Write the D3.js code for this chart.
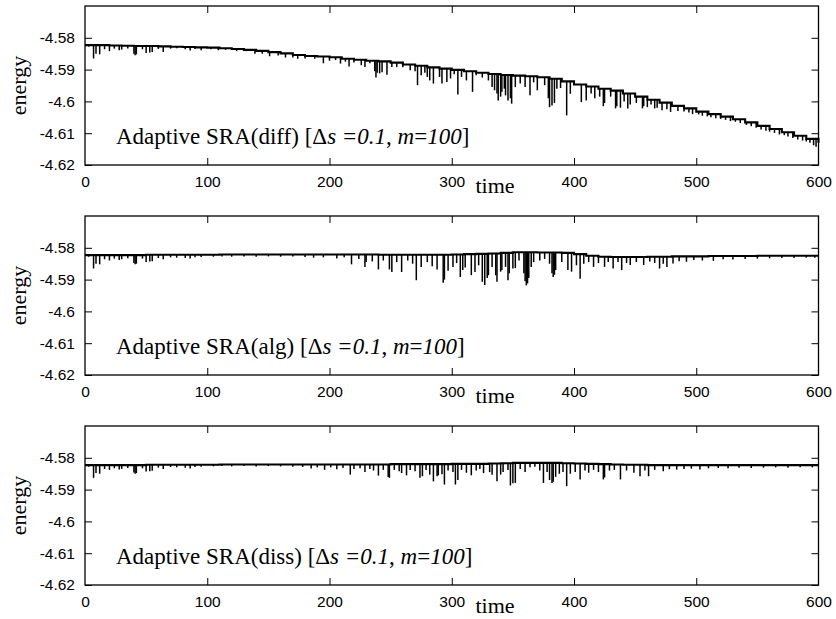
<!DOCTYPE html>
<html><head><meta charset="utf-8">
<script src="https://cdn.jsdelivr.net/npm/d3@7"></script>
<style>
body{margin:0;background:#fff;}
svg{display:block;}
</style></head>
<body><svg id="c" width="836" height="619"></svg>
<script>
// ---------- data ----------
const timeGrid = [0,10,20,30,40,50,60,70,80,90,100,110,120,130,140,150,160,170,180,190,200,210,220,230,240,250,260,270,280,290,300,310,320,330,340,350,360,370,380,390,400,410,420,430,440,450,460,470,480,490,500,510,520,530,540,550,560,570,580,590,600];

const diffBase = [-4.5823,-4.5823,-4.5824,-4.5825,-4.5826,-4.5826,-4.5827,-4.5828,-4.5829,-4.5830,
 -4.5831,-4.5833,-4.5835,-4.5838,-4.5841,-4.5845,-4.5849,-4.5854,-4.5857,-4.5859,
 -4.5861,-4.5866,-4.5869,-4.5872,-4.5874,-4.5878,-4.5884,-4.5888,-4.5893,-4.5897,
 -4.5901,-4.5905,-4.5910,-4.5914,-4.5917,-4.5919,-4.5921,-4.5924,-4.5929,-4.5937,
 -4.5947,-4.5953,-4.5960,-4.5966,-4.5975,-4.5985,-4.5995,-4.6004,-4.6014,-4.6022,
 -4.6032,-4.6040,-4.6048,-4.6056,-4.6066,-4.6077,-4.6087,-4.6097,-4.6108,-4.6118,-4.6130];

const algBase = [-4.5823,-4.5823,-4.5823,-4.5823,-4.5823,-4.5822,-4.5822,-4.5822,-4.5822,-4.5822,
 -4.5822,-4.5821,-4.5821,-4.5821,-4.5821,-4.5821,-4.5821,-4.5821,-4.5821,-4.5821,
 -4.5821,-4.5821,-4.5821,-4.5821,-4.5822,-4.5822,-4.5822,-4.5822,-4.5822,-4.5822,
 -4.5821,-4.5820,-4.5819,-4.5818,-4.5816,-4.5814,-4.5814,-4.5815,-4.5815,-4.5816,
 -4.5820,-4.5825,-4.5828,-4.5829,-4.5829,-4.5829,-4.5828,-4.5828,-4.5827,-4.5827,
 -4.5827,-4.5826,-4.5826,-4.5826,-4.5826,-4.5825,-4.5825,-4.5825,-4.5825,-4.5825,-4.5825];

const dissBase = [-4.5823,-4.5823,-4.5823,-4.5823,-4.5823,-4.5822,-4.5822,-4.5822,-4.5822,-4.5822,
 -4.5822,-4.5821,-4.5821,-4.5821,-4.5821,-4.5821,-4.5821,-4.5821,-4.5821,-4.5821,
 -4.5821,-4.5821,-4.5821,-4.5821,-4.5821,-4.5820,-4.5820,-4.5820,-4.5820,-4.5820,
 -4.5819,-4.5819,-4.5819,-4.5818,-4.5817,-4.5816,-4.5816,-4.5816,-4.5816,-4.5817,
 -4.5818,-4.5819,-4.5820,-4.5821,-4.5822,-4.5822,-4.5823,-4.5823,-4.5823,-4.5823,
 -4.5823,-4.5823,-4.5823,-4.5823,-4.5823,-4.5823,-4.5823,-4.5823,-4.5823,-4.5823,-4.5823];

// spikes: [time, minimum energy reached]
const diffSpikes = [[3,-4.5828],[7,-4.5865],[9,-4.5850],[12,-4.5852],[16,-4.5836],[20,-4.5842],[24,-4.5834],[28,-4.5839],[30,-4.5837],[35,-4.5834],[40,-4.5850],[41,-4.5855],[42,-4.5852],[47,-4.5836],[50,-4.5848],[53,-4.5846],[55,-4.5845],[60,-4.5835],[64,-4.5845],[70,-4.5834],[75,-4.5833],[82,-4.5836],[86,-4.5840],[90,-4.5835],[95,-4.5839],[103,-4.5836],[109,-4.5839],[115,-4.5838],[124,-4.5842],[132,-4.5842],[139,-4.5850],[145,-4.5850],[151,-4.5858],[158,-4.5856],[164,-4.5862],[170,-4.5862],[174,-4.5866],[180,-4.5865],[188,-4.5866],[195,-4.5880],[200,-4.5872],
 [205,-4.5870],[209,-4.5881],[213,-4.5875],[216,-4.5890],[220,-4.5878],[226,-4.5886],[229,-4.5892],[233,-4.5880],[237,-4.5905],[238,-4.5925],[239,-4.5910],[241,-4.5912],[243,-4.5908],[247,-4.5916],[251,-4.5892],[255,-4.5892],[260,-4.5893],[266,-4.5902],[270,-4.5905],[272,-4.5949],[275,-4.5918],[278,-4.5910],[280,-4.5923],[282,-4.5934],[285,-4.5944],[290,-4.5923],[292,-4.5944],[296,-4.5939],[299,-4.5928],[302,-4.5915],[305,-4.5978],[308,-4.5923],[312,-4.5934],[317,-4.5970],[320,-4.5918],[325,-4.5925],[330,-4.5934],[333,-4.5955],[335,-4.5965],[337,-4.5975],[338,-4.5997],[340,-4.5985],[341,-4.5970],[343,-4.5960],[344,-4.5981],[346,-4.5997],[348,-4.5990],[349,-4.6007],[352,-4.5955],[356,-4.5944],[360,-4.5955],[364,-4.5981],[367,-4.5940],[370,-4.5965],[376,-4.5949],[379,-4.5990],[380,-4.6018],[382,-4.6013],[384,-4.6005],[386,-4.5960],[389,-4.5958],[394,-4.6044],[397,-4.5976],
 [406,-4.6002],[410,-4.5997],[414,-4.5975],[417,-4.5990],[421,-4.5985],[424,-4.6015],[425,-4.6005],[430,-4.5985],[434,-4.6022],[435,-4.6015],[438,-4.6020],[441,-4.6000],[444,-4.6022],[446,-4.6010],[451,-4.6005],[456,-4.6022],[457,-4.6015],[460,-4.6018],[463,-4.6010],[466,-4.6022],[468,-4.6020],[472,-4.6028],[476,-4.6025],[479,-4.6033],[485,-4.6030],[490,-4.6032],[494,-4.6035],[497,-4.6040],[502,-4.6041],[505,-4.6045],[509,-4.6047],[512,-4.6050],[516,-4.6053],[520,-4.6055],[524,-4.6058],[528,-4.6062],[532,-4.6064],[536,-4.6068],[541,-4.6074],[545,-4.6078],[549,-4.6083],[553,-4.6088],[557,-4.6092],[560,-4.6095],[564,-4.6099],[568,-4.6104],[572,-4.6106],[575,-4.6110],[579,-4.6115],[583,-4.6120],[587,-4.6123],[590,-4.6126],[593,-4.6130],[596,-4.6138],[598,-4.6143]];

const algSpikes = [[3,-4.5828],[7,-4.5865],[9,-4.5850],[12,-4.5852],[16,-4.5836],[20,-4.5840],[24,-4.5834],[28,-4.5838],[30,-4.5836],[35,-4.5833],[40,-4.5848],[41,-4.5852],[42,-4.5850],[47,-4.5834],[50,-4.5845],[53,-4.5843],[55,-4.5842],[60,-4.5832],[64,-4.5836],[70,-4.5830],[75,-4.5831],[82,-4.5832],[86,-4.5834],[90,-4.5830],[95,-4.5829],
 [105,-4.5828],[112,-4.5827],[120,-4.5828],[130,-4.5827],[140,-4.5828],[150,-4.5827],[160,-4.5828],[170,-4.5827],[180,-4.5829],[187,-4.5831],[195,-4.5830],
 [206,-4.5834],[212,-4.5830],[218,-4.5852],[224,-4.5835],[229,-4.5860],[230,-4.5845],[235,-4.5843],[240,-4.5868],[244,-4.5840],[249,-4.5868],[251,-4.5876],[255,-4.5845],[259,-4.5876],[264,-4.5840],[268,-4.5850],[271,-4.5902],[275,-4.5860],[280,-4.5845],[284,-4.5858],[288,-4.5868],[293,-4.5910],[294,-4.5900],[297,-4.5872],
 [301,-4.5860],[304,-4.5848],[307,-4.5892],[309,-4.5870],[311,-4.5862],[316,-4.5886],[319,-4.5876],[322,-4.5855],[325,-4.5907],[327,-4.5917],[329,-4.5895],[330,-4.5886],[333,-4.5860],[336,-4.5886],[337,-4.5907],[340,-4.5875],[341,-4.5870],[344,-4.5860],[346,-4.5902],[347,-4.5880],[350,-4.5865],[352,-4.5864],[355,-4.5840],[359,-4.5880],[360,-4.5905],[361,-4.5918],[362,-4.5912],[363,-4.5895],[365,-4.5860],[367,-4.5845],[372,-4.5840],[376,-4.5835],[380,-4.5850],[382,-4.5880],[383,-4.5892],[384,-4.5885],[385,-4.5870],[390,-4.5845],[395,-4.5870],[398,-4.5875],
 [402,-4.5855],[405,-4.5897],[408,-4.5850],[412,-4.5845],[416,-4.5860],[420,-4.5848],[425,-4.5860],[428,-4.5845],[432,-4.5865],[436,-4.5845],[439,-4.5870],[443,-4.5848],[446,-4.5854],[451,-4.5845],[457,-4.5854],[462,-4.5843],[466,-4.5848],[470,-4.5865],[473,-4.5850],[476,-4.5860],[481,-4.5849],[486,-4.5842],[492,-4.5844],[498,-4.5838],[505,-4.5840],[514,-4.5841],[522,-4.5836],[530,-4.5837],[540,-4.5835],[550,-4.5834],[560,-4.5833],[570,-4.5832],[580,-4.5832],[590,-4.5831],[597,-4.5831]];

const dissSpikes = [[3,-4.5828],[7,-4.5863],[9,-4.5848],[12,-4.5850],[16,-4.5835],[20,-4.5838],[24,-4.5833],[28,-4.5837],[30,-4.5835],[35,-4.5832],[40,-4.5846],[41,-4.5850],[42,-4.5848],[47,-4.5833],[50,-4.5843],[53,-4.5842],[55,-4.5841],[60,-4.5831],[64,-4.5835],[70,-4.5829],[75,-4.5830],[82,-4.5831],[86,-4.5834],[90,-4.5829],[95,-4.5828],
 [105,-4.5827],[112,-4.5826],[120,-4.5827],[130,-4.5826],[140,-4.5827],[150,-4.5826],[160,-4.5827],[170,-4.5828],[178,-4.5829],[185,-4.5834],[190,-4.5830],[196,-4.5838],
 [201,-4.5830],[206,-4.5836],[211,-4.5832],[217,-4.5853],[220,-4.5835],[225,-4.5833],[229,-4.5845],[233,-4.5835],[236,-4.5840],[240,-4.5856],[244,-4.5838],[248,-4.5860],[249,-4.5863],[253,-4.5838],[257,-4.5842],[259,-4.5848],[263,-4.5855],[266,-4.5838],[270,-4.5842],[274,-4.5863],[276,-4.5858],[279,-4.5838],[282,-4.5853],[285,-4.5874],[288,-4.5858],[289,-4.5855],[292,-4.5852],[294,-4.5884],[297,-4.5840],
 [301,-4.5845],[303,-4.5884],[305,-4.5870],[308,-4.5838],[312,-4.5847],[316,-4.5855],[320,-4.5840],[323,-4.5835],[326,-4.5848],[331,-4.5845],[333,-4.5853],[337,-4.5874],[340,-4.5853],[342,-4.5845],[346,-4.5838],[348,-4.5887],[350,-4.5880],[352,-4.5879],[356,-4.5835],[360,-4.5845],[364,-4.5830],[368,-4.5828],[372,-4.5840],[375,-4.5879],[378,-4.5845],[380,-4.5870],[382,-4.5879],[383,-4.5875],[385,-4.5860],[388,-4.5850],[391,-4.5845],[394,-4.5889],[397,-4.5850],
 [401,-4.5845],[405,-4.5868],[409,-4.5840],[412,-4.5847],[416,-4.5838],[420,-4.5845],[424,-4.5868],[425,-4.5862],[429,-4.5840],[433,-4.5838],[438,-4.5868],[443,-4.5840],[449,-4.5847],[454,-4.5858],[458,-4.5840],[461,-4.5858],[466,-4.5838],[473,-4.5842],[478,-4.5836],[484,-4.5837],[490,-4.5835],[496,-4.5834],[503,-4.5837],[510,-4.5833],[518,-4.5832],[526,-4.5833],[535,-4.5831],[545,-4.5832],[555,-4.5831],[565,-4.5830],[575,-4.5831],[585,-4.5830],[595,-4.5830]];

const xTicks = [0,100,200,300,400,500,600];
const yTicks = [-4.58,-4.59,-4.6,-4.61,-4.62];
const yTickLabels = ["-4.58","-4.59","-4.6","-4.61","-4.62"];
const methods = ["diff","alg","diss"];
const xLabel = "time", yLabel = "energy";

const panels = [
  {method: methods[0], base: diffBase, spikes: diffSpikes},
  {method: methods[1], base: algBase, spikes: algSpikes},
  {method: methods[2], base: dissBase, spikes: dissSpikes}
];

// ---------- layout ----------
const svg = d3.select("#c");
const left = 85, right = 818.5, ph = 159;
const tops = [6, 216, 426];
const sans = "'Liberation Sans', Arial, Helvetica, sans-serif";
const serif = "'Liberation Serif', 'Times New Roman', serif";

const x = d3.scaleLinear().domain([0, 600]).range([left, right]);

panels.forEach((p, i) => {
  const top = tops[i], bottom = top + ph;
  const y = d3.scaleLinear().domain([-4.62, -4.57]).range([bottom, top]);
  const g = svg.append("g");

  // data: baseline (stepped) and spikes
  const pts = timeGrid.map((t, k) => [t, p.base[k]]);
  const line = d3.line().x(d => x(d[0])).y(d => y(d[1])).curve(d3.curveStepAfter);
  const baseAt = t => p.base[Math.max(0, d3.bisectRight(timeGrid, t) - 1)];

  g.append("g").selectAll("line").data(p.spikes).join("line")
    .attr("x1", d => x(d[0])).attr("x2", d => x(d[0]))
    .attr("y1", d => y(baseAt(d[0]))).attr("y2", d => y(d[1]))
    .attr("stroke", "#000").attr("stroke-width", 1.5);

  g.append("path").datum(pts).attr("d", line)
    .attr("fill", "none").attr("stroke", "#000").attr("stroke-width", 2.1);

  // axes with inward ticks on all four sides
  const tl = 7;
  const axB = d3.axisBottom(x).tickValues(xTicks).tickSizeInner(-tl).tickSizeOuter(0).tickPadding(11).tickFormat(d3.format("d"));
  const axT = d3.axisTop(x).tickValues(xTicks).tickSizeInner(-tl).tickSizeOuter(0).tickFormat("");
  const axL = d3.axisLeft(y).tickValues(yTicks).tickSizeInner(-tl).tickSizeOuter(0).tickPadding(10)
    .tickFormat((d, k) => yTickLabels[k]);
  const axR = d3.axisRight(y).tickValues(yTicks).tickSizeInner(-tl).tickSizeOuter(0).tickFormat("");

  const styleAxis = sel => {
    sel.select(".domain").remove();
    sel.selectAll(".tick line").attr("stroke", "#000").attr("stroke-width", 1);
    sel.selectAll("text").attr("fill", "#000").style("font-family", sans).style("font-size", "15.5px");
  };
  g.append("g").attr("transform", `translate(0,${bottom})`).call(axB).call(styleAxis)
    .selectAll(".tick").filter(d => d === 0 || d === 600).select("line").remove();
  g.append("g").attr("transform", `translate(0,${top})`).call(axT).call(styleAxis)
    .selectAll(".tick").filter(d => d === 0 || d === 600).select("line").remove();
  g.append("g").attr("transform", `translate(${left},0)`).call(axL).call(styleAxis);
  g.append("g").attr("transform", `translate(${right},0)`).call(axR).call(styleAxis);

  // frame
  g.append("rect").attr("x", left).attr("y", top).attr("width", right - left).attr("height", ph)
    .attr("fill", "none").attr("stroke", "#000").attr("stroke-width", 1.3);

  // labels
  g.append("text").attr("x", 495).attr("y", bottom + 28).attr("text-anchor", "middle")
    .style("font-family", serif).style("font-size", "22px").text(xLabel);
  g.append("text").attr("transform", `translate(26,${top + ph / 2}) rotate(-90)`).attr("text-anchor", "middle")
    .style("font-family", serif).style("font-size", "22px").text(yLabel);

  const ann = g.append("text").attr("x", 116).attr("y", bottom - 21)
    .style("font-family", serif).style("font-size", "23px");
  ann.append("tspan").text(`Adaptive SRA(${p.method}) [Δ`);
  ann.append("tspan").style("font-style", "italic").text("s =0.1");
  ann.append("tspan").text(", ");
  ann.append("tspan").style("font-style", "italic").text("m");
  ann.append("tspan").text("=");
  ann.append("tspan").style("font-style", "italic").text("100");
  ann.append("tspan").text("]");
});
</script>
</body></html>
